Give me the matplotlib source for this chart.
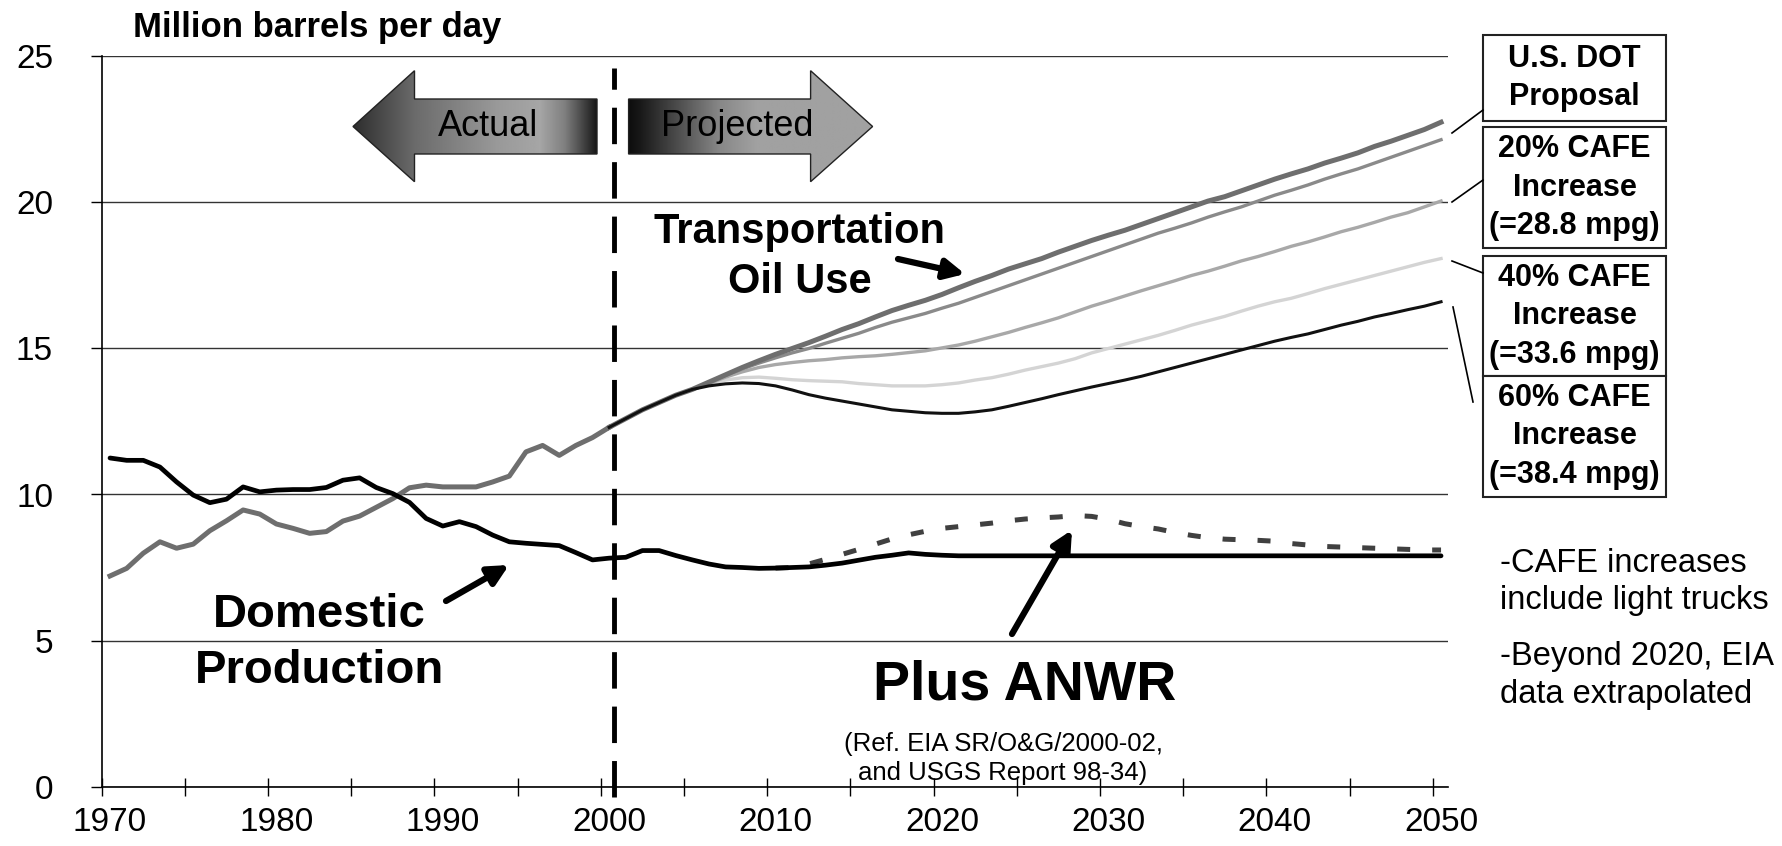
import matplotlib.pyplot as plt
import numpy as np
from matplotlib.patches import Polygon, Rectangle

plt.rcParams['font.family'] = ['Liberation Sans', 'DejaVu Sans']

# --- data (million barrels per day) ---
hist_years = list(range(1970, 2001))
transport_hist = [7.21, 7.47, 7.99, 8.38, 8.16, 8.30, 8.76, 9.10, 9.47, 9.33,
                  8.99, 8.84, 8.67, 8.73, 9.09, 9.26, 9.56, 9.86, 10.23, 10.32,
                  10.26, 10.26, 10.26, 10.43, 10.63, 11.46, 11.68, 11.34, 11.68, 11.95,
                  12.30]

dom_years = list(range(1970, 2051))
domestic = [11.25, 11.17, 11.17, 10.94, 10.43, 9.98, 9.72, 9.84, 10.26, 10.09,
            10.15, 10.17, 10.17, 10.24, 10.49, 10.57, 10.24, 10.03, 9.73, 9.18,
            8.92, 9.07, 8.90, 8.61, 8.38, 8.33, 8.29, 8.25, 8.01, 7.76,
            7.82, 7.85, 8.08, 8.08, 7.91, 7.76, 7.62, 7.52, 7.50, 7.47,
            7.48, 7.50, 7.52, 7.58, 7.65, 7.75, 7.85, 7.92, 8.00, 7.95,
            7.92, 7.90, 7.90, 7.90, 7.90, 7.90, 7.90, 7.90, 7.90, 7.90,
            7.90, 7.90, 7.90, 7.90, 7.90, 7.90, 7.90, 7.90, 7.90, 7.90,
            7.90, 7.90, 7.90, 7.90, 7.90, 7.90, 7.90, 7.90, 7.90, 7.90,
            7.90]

proj_years = list(range(2000, 2051))
base_case = [12.30, 12.60, 12.90, 13.15, 13.40, 13.60, 13.85, 14.10, 14.35, 14.58,
             14.80, 15.00, 15.20, 15.42, 15.65, 15.85, 16.08, 16.30, 16.48, 16.65,
             16.85, 17.08, 17.30, 17.50, 17.72, 17.90, 18.08, 18.30, 18.50, 18.70,
             18.88, 19.05, 19.25, 19.45, 19.65, 19.85, 20.05, 20.20, 20.40, 20.60,
             20.80, 20.98, 21.15, 21.35, 21.52, 21.70, 21.92, 22.10, 22.30, 22.50,
             22.75]
dot_case = [12.30, 12.60, 12.90, 13.15, 13.40, 13.60, 13.82, 14.08, 14.30, 14.50,
            14.68, 14.85, 15.00, 15.18, 15.35, 15.52, 15.72, 15.90, 16.05, 16.20,
            16.38, 16.55, 16.75, 16.95, 17.15, 17.35, 17.55, 17.75, 17.95, 18.15,
            18.35, 18.55, 18.75, 18.95, 19.12, 19.30, 19.50, 19.68, 19.85, 20.05,
            20.25, 20.42, 20.60, 20.80, 20.98, 21.15, 21.35, 21.55, 21.75, 21.95,
            22.15]
cafe20 = [12.30, 12.60, 12.90, 13.15, 13.40, 13.60, 13.80, 14.02, 14.20, 14.35,
          14.45, 14.52, 14.58, 14.62, 14.68, 14.72, 14.75, 14.80, 14.86, 14.92,
          15.02, 15.12, 15.25, 15.40, 15.55, 15.72, 15.88, 16.05, 16.25, 16.45,
          16.62, 16.80, 16.98, 17.15, 17.32, 17.50, 17.65, 17.82, 18.00, 18.15,
          18.32, 18.50, 18.65, 18.82, 19.00, 19.15, 19.32, 19.50, 19.65, 19.85,
          20.05]
cafe40 = [12.30, 12.60, 12.90, 13.15, 13.40, 13.60, 13.78, 13.92, 14.00, 14.02,
          13.98, 13.93, 13.90, 13.88, 13.86, 13.80, 13.76, 13.72, 13.72, 13.72,
          13.76, 13.82, 13.92, 14.00, 14.12, 14.26, 14.38, 14.50, 14.65, 14.85,
          15.00, 15.15, 15.30, 15.45, 15.62, 15.80, 15.95, 16.10, 16.28, 16.45,
          16.60, 16.72, 16.88, 17.05, 17.20, 17.35, 17.50, 17.65, 17.80, 17.95,
          18.08]
cafe60 = [12.30, 12.60, 12.90, 13.15, 13.40, 13.60, 13.72, 13.79, 13.82, 13.80,
          13.72, 13.58, 13.42, 13.30, 13.20, 13.10, 13.00, 12.90, 12.85, 12.80,
          12.78, 12.78, 12.83, 12.90, 13.02, 13.15, 13.28, 13.42, 13.55, 13.68,
          13.80, 13.92, 14.05, 14.20, 14.35, 14.50, 14.65, 14.80, 14.95, 15.10,
          15.25, 15.38, 15.50, 15.65, 15.80, 15.93, 16.08, 16.20, 16.33, 16.45,
          16.60]

anwr_years = list(range(2010, 2051))
anwr = [7.48, 7.50, 7.62, 7.78, 7.95, 8.12, 8.30, 8.48, 8.62, 8.74,
        8.84, 8.90, 8.96, 9.02, 9.10, 9.16, 9.20, 9.23, 9.28, 9.25,
        9.15, 9.00, 8.90, 8.82, 8.70, 8.60, 8.52, 8.47, 8.45, 8.43,
        8.40, 8.32, 8.27, 8.22, 8.20, 8.18, 8.16, 8.14, 8.12, 8.10,
        8.10]

split_year = 2000.3
box_labels = [['U.S. DOT', 'Proposal'],
              ['20% CAFE', 'Increase', '(=28.8 mpg)'],
              ['40% CAFE', 'Increase', '(=33.6 mpg)'],
              ['60% CAFE', 'Increase', '(=38.4 mpg)']]
notes = ['-CAFE increases', 'include light trucks', '-Beyond 2020, EIA', 'data extrapolated']

W, H = 1782, 846
fig = plt.figure(figsize=(W / 100, H / 100), dpi=100)
ax = fig.add_axes([101.7 / W, 1 - 786.5 / H, 1346 / W, 730 / H])

# series
ax.plot(proj_years, cafe40, color='#d4d4d4', lw=2.4)
ax.plot(proj_years, cafe20, color='#a8a8a8', lw=2.4)
ax.plot(proj_years, dot_case, color='#8a8a8a', lw=2.4)
ax.plot(proj_years, base_case, color='#6e6e6e', lw=3.6)
ax.plot(hist_years, transport_hist, color='#6e6e6e', lw=3.6)
ax.plot(proj_years, cafe60, color='#111111', lw=2.2)
ax.plot(anwr_years, anwr, color='#404040', lw=3.6, linestyle=(0, (2.6, 4.4)))
ax.plot(dom_years, domestic, color='black', lw=3.4, solid_capstyle='round')

ax.axvline(split_year, ymin=-0.015, ymax=0.984, color='black', lw=3.5,
           linestyle=(0, (7.5, 3.7)), clip_on=False, zorder=5)

ax.set_xlim(1969.5, 2050.4)
ax.set_ylim(0, 25)
ax.set_yticks([0, 5, 10, 15, 20, 25])
ax.set_xticks(range(1970, 2051, 10))
ax.set_xticks(np.arange(1969.5, 2050, 5), minor=True)
ax.tick_params(axis='x', which='major', length=0, pad=15, labelsize=24)
ax.tick_params(axis='x', which='minor', direction='inout', length=13, width=1)
ax.tick_params(axis='y', direction='out', length=8, width=1, pad=27, labelsize=24)
ax.yaxis.grid(True, color='#333333', lw=1)
ax.set_axisbelow(True)
for s in ['top', 'right']:
    ax.spines[s].set_visible(False)
for s in ['left', 'bottom']:
    ax.spines[s].set_linewidth(1.2)

# overlay in pixel coordinates for annotations
ov = fig.add_axes([0, 0, 1, 1])
ov.set_xlim(0, W)
ov.set_ylim(H, 0)
ov.axis('off')

ov.text(133, 27, 'Million barrels per day', fontsize=25, fontweight='bold', va='center', ha='left')

# gradient block arrows
def block_arrow(pts, xs, vals, label, cx):
    poly = Polygon(pts, closed=True, facecolor='none', edgecolor='#222222', lw=1, zorder=4)
    ov.add_patch(poly)
    x0 = min(p[0] for p in pts)
    x1 = max(p[0] for p in pts)
    grid = np.linspace(x0, x1, 400)
    grad = np.interp(grid, xs, vals)[None, :]
    im = ov.imshow(grad, cmap='gray', vmin=0, vmax=1, aspect='auto',
                   extent=(x0, x1, 182, 70), zorder=3, interpolation='bilinear')
    im.set_clip_path(poly)
    ov.text(cx, 127, label, fontsize=26, ha='center', va='center', zorder=5)

block_arrow([(353, 126.5), (414.5, 70.7), (414.5, 99), (597, 99), (597, 154),
             (414.5, 154), (414.5, 181.7)],
            [353, 415, 497, 540, 565, 585, 598],
            [0.18, 0.42, 0.6, 0.65, 0.5, 0.25, 0.08], 'Actual', 488)
block_arrow([(628.6, 99), (810.6, 99), (810.6, 70.7), (872.6, 126.5), (810.6, 181.7),
             (810.6, 154), (628.6, 154)],
            [628, 640, 719, 756, 873], [0.05, 0.1, 0.53, 0.63, 0.63], 'Projected', 737)

# big labels
ov.text(800, 232, 'Transportation', fontsize=30, fontweight='bold', ha='center', va='center')
ov.text(800, 282, 'Oil Use', fontsize=30, fontweight='bold', ha='center', va='center')
ov.text(319, 615, 'Domestic', fontsize=34, fontweight='bold', ha='center', va='center')
ov.text(320, 671, 'Production', fontsize=34, fontweight='bold', ha='center', va='center')
ov.text(1025, 686, 'Plus ANWR', fontsize=40, fontweight='bold', ha='center', va='center')
ov.text(1003, 744, '(Ref. EIA SR/O&G/2000-02,', fontsize=18.5, ha='center', va='center')
ov.text(1003, 773, 'and USGS Report 98-34)', fontsize=18.5, ha='center', va='center')

arrow_kw = dict(arrowstyle='-|>', lw=4.5, color='black', mutation_scale=30, shrinkA=0, shrinkB=0)
ov.annotate('', xy=(965, 274), xytext=(898, 259), arrowprops=arrow_kw)
ov.annotate('', xy=(509, 565), xytext=(446, 601), arrowprops=arrow_kw)
ov.annotate('', xy=(1072, 530), xytext=(1012, 634), arrowprops=arrow_kw)

# scenario boxes
box_top = [35, 127, 256, 376]
box_bot = [121, 248, 376, 497]
for lines, t, b in zip(box_labels, box_top, box_bot):
    ov.add_patch(Rectangle((1483, t), 183, b - t, facecolor='white', edgecolor='#222222', lw=1.5))
    n = len(lines)
    mid = (t + b) / 2
    for i, s in enumerate(lines):
        ov.text(1574.5, mid + (i - (n - 1) / 2) * 38.5, s, fontsize=22, fontweight='bold',
                ha='center', va='center')

leaders = [((1452, 133), (1483, 110)), ((1452, 202), (1483, 180)),
           ((1452, 261), (1483, 273)), ((1453, 307), (1473, 402))]
for a, b in leaders:
    ov.plot([a[0], b[0]], [a[1], b[1]], color='black', lw=1.2)

for s, y in zip(notes, [563, 600, 657, 694]):
    ov.text(1500, y, s, fontsize=23.5, ha='left', va='center')

fig.savefig('out.png', dpi=100)
